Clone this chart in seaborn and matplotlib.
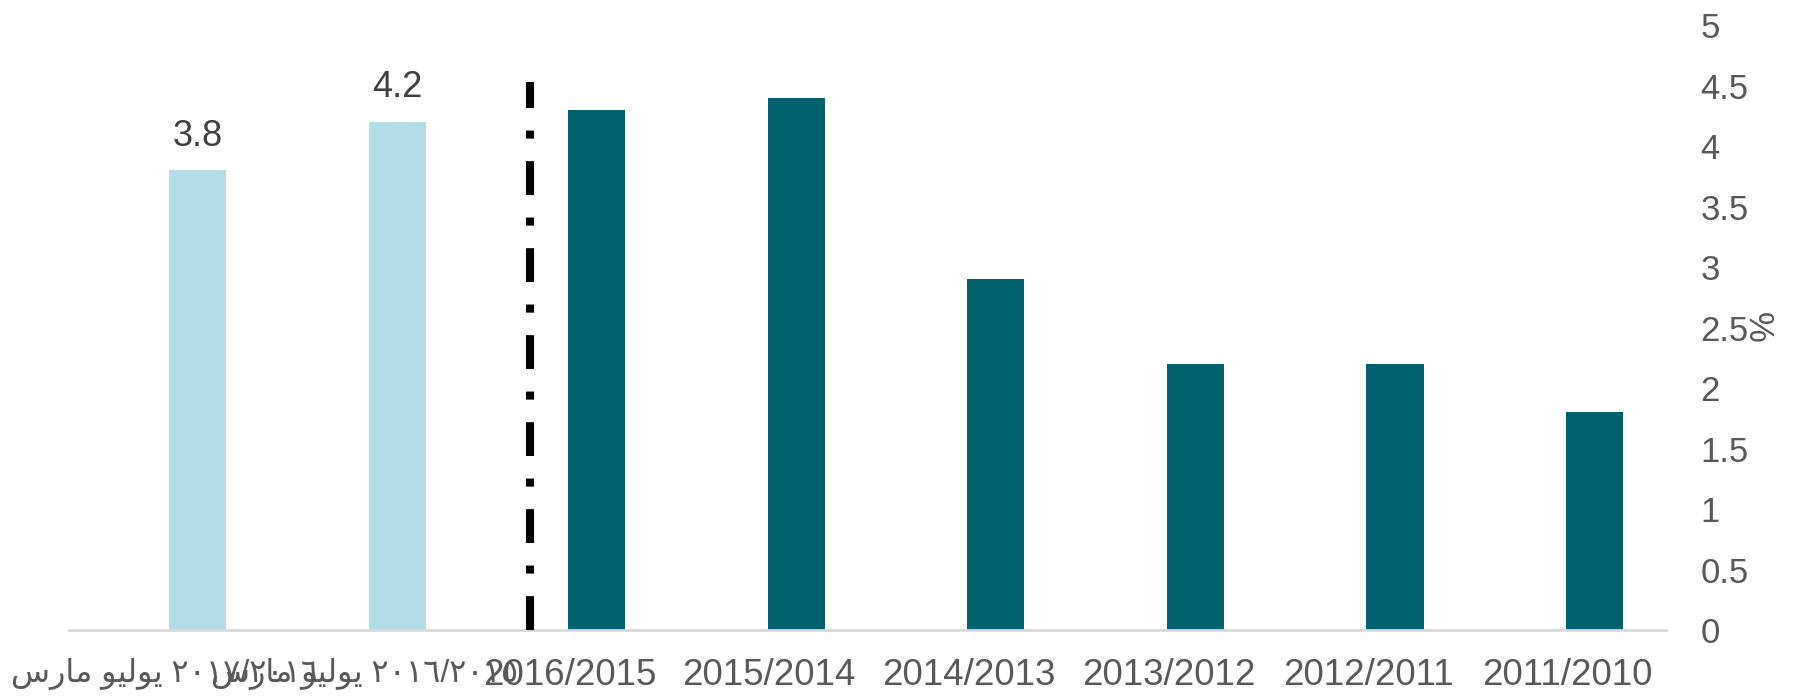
import matplotlib
matplotlib.use("Agg")
import matplotlib.pyplot as plt
import matplotlib.transforms as mtransforms
import seaborn as sns
import pandas as pd

# ---- data ----
# Arabic labels written in visual (shaped) order so they render joined, right-to-left
categories = [
    "\uFEB1\uFEAD\uFE8E\uFEE3 \uFEEE\uFEF4\uFEDF\uFEEE\uFEF3 \u0662\u0660\u0661\u0667/\u0662\u0660\u0661\u0666",
    "\uFEB1\uFEAD\uFE8E\uFEE3 \uFEEE\uFEF4\uFEDF\uFEEE\uFEF3 \u0662\u0660\u0661\u0666/\u0662\u0660\u0661\u0665",
    "2016/2015", "2015/2014", "2014/2013", "2013/2012", "2012/2011", "2011/2010",
]
values = [3.8, 4.2, 4.3, 4.4, 2.9, 2.2, 2.2, 1.8]
groups = ["partial", "partial", "full", "full", "full", "full", "full", "full"]
labelled = [True, True, False, False, False, False, False, False]
y_ticks = [0, 0.5, 1, 1.5, 2, 2.5, 3, 3.5, 4, 4.5, 5]
y_tick_labels = ["0", "0.5", "1", "1.5", "2", "2.5", "3", "3.5", "4", "4.5", "5"]
y_axis_label = "%"

df = pd.DataFrame({"cat": categories, "val": values, "grp": groups})

sns.set_theme(style="white")
plt.rcParams["font.family"] = ["Liberation Sans", "DejaVu Sans"]

fig = plt.figure(figsize=(17.96, 7.0), dpi=100)
ax = fig.add_axes([0.0384, 0.1, 0.889, 0.864])

palette = {"partial": "#B4DCE6", "full": "#02616F"}
sns.barplot(data=df, x="cat", y="val", hue="grp", order=categories,
            palette=palette, dodge=False, width=0.286, saturation=1,
            legend=False, ax=ax, linewidth=0)

# data labels on the partial-year bars
for i, (v, lab) in enumerate(zip(values, labelled)):
    if lab:
        ax.annotate(f"{v:.1f}", (i, v), xytext=(0, 12), textcoords="offset points",
                    ha="center", va="bottom", fontsize=26, color="#404040")

# dash-dot separator between partial and full years
divider_x = 1.667
divider_top = 4.53
ax.vlines(divider_x, 0, divider_top, colors="black", linewidth=5.8,
          linestyles=(0, (4.2, 2.8, 1.0, 2.8)), zorder=3, capstyle="butt")

ax.set_xlim(-0.644, 7.356)
ax.set_ylim(0, 5)
ax.yaxis.tick_right()
ax.yaxis.set_label_position("right")
ax.set_yticks(y_ticks)
ax.set_yticklabels(y_tick_labels)
ax.tick_params(axis="y", length=0, pad=25, labelsize=25, labelcolor="#595959")
ax.tick_params(axis="x", length=0, pad=20, labelsize=26.5, labelcolor="#595959")
for i, t in enumerate(ax.get_xticklabels()):
    if groups[i] == "partial":
        t.set_fontsize(23)
        shift = -0.33
    else:
        shift = -0.27
    t.set_transform(t.get_transform() +
                    mtransforms.ScaledTranslation(shift, 0, fig.dpi_scale_trans))
ax.set_xlabel("")
ax.set_ylabel(y_axis_label, fontsize=25, color="#595959", rotation=270)
ax.yaxis.set_label_coords(1.068, 0.5)

for s in ["top", "right", "left"]:
    ax.spines[s].set_visible(False)
ax.spines["bottom"].set_color("#D9D9D9")
ax.spines["bottom"].set_linewidth(2)
ax.grid(False)

fig.savefig("out.png", dpi=100, facecolor="white")
